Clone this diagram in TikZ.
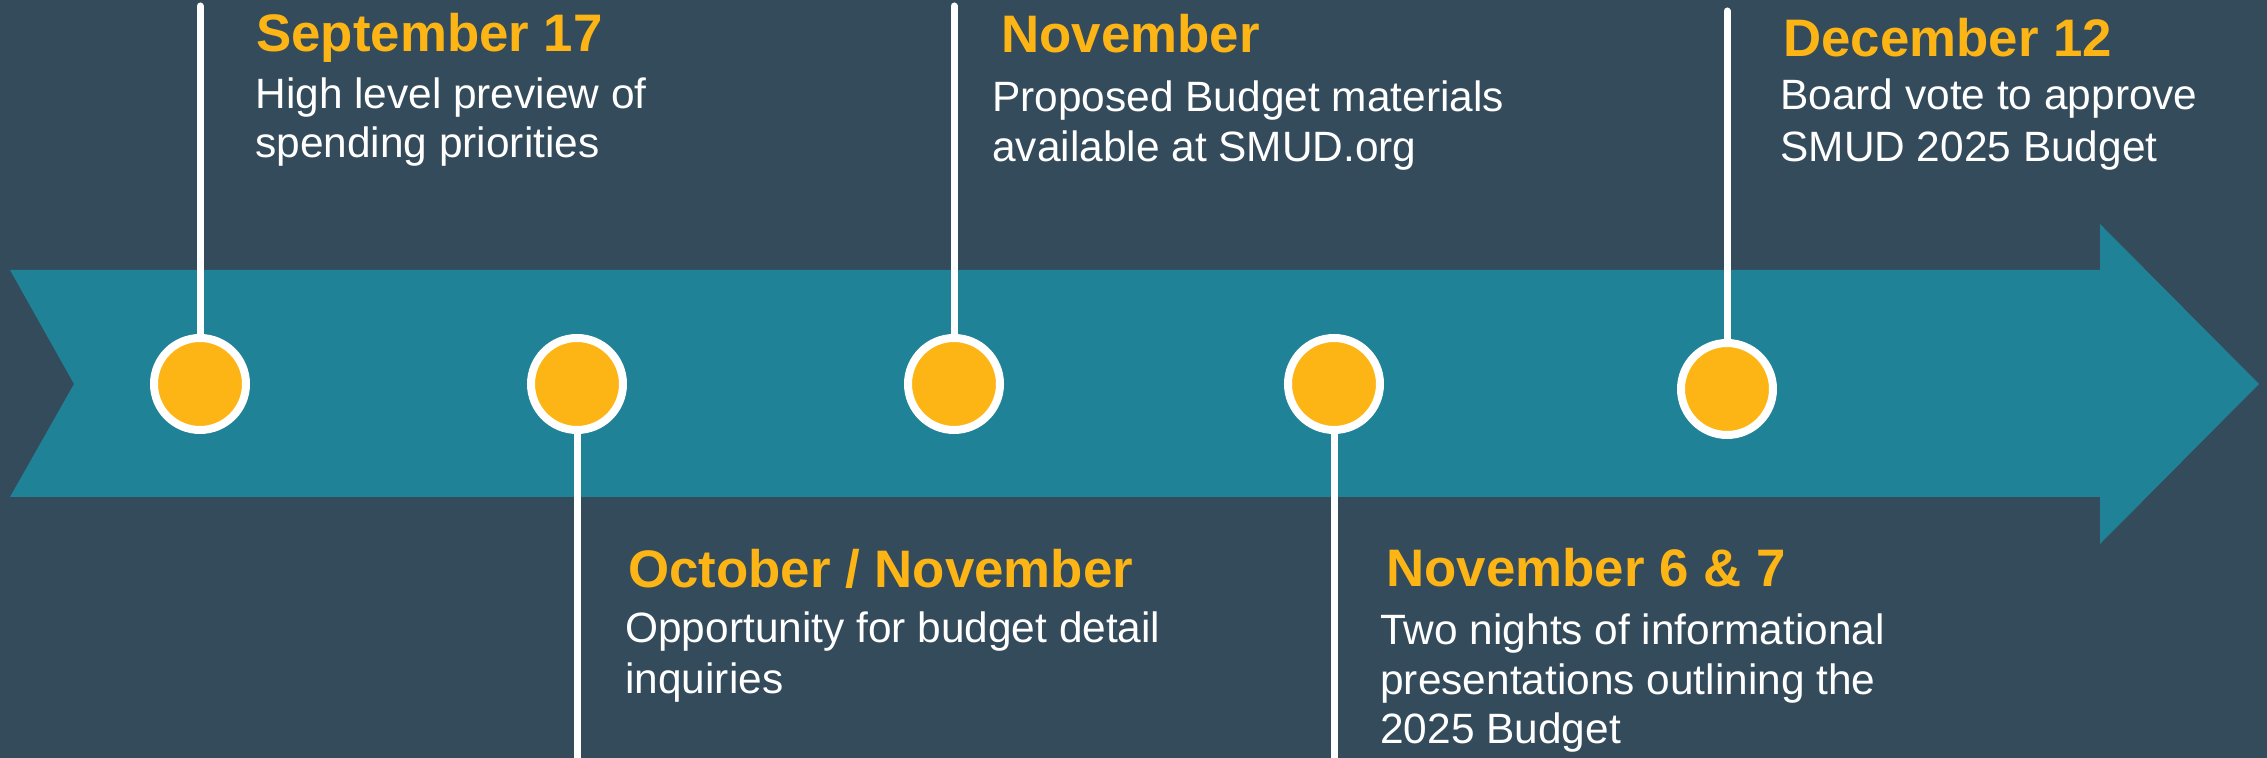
\documentclass[tikz,border=0pt]{standalone}
\usepackage{fontspec}
\setmainfont{Liberation Sans}
\definecolor{bgcol}{HTML}{344B5C}
\definecolor{teal}{HTML}{1F8296}
\definecolor{gold}{HTML}{FDB515}
\begin{document}
\begin{tikzpicture}[x=0.5pt,y=-0.5pt,
  dot/.style={circle,minimum size=46pt,inner sep=0pt,fill=gold,draw=white,line width=4pt},
  stem/.style={draw=white,line width=3.5pt,line cap=round},
  title/.style={anchor=base west,inner sep=0pt,text=gold,font=\fontsize{26.4}{30}\selectfont\bfseries},
  body/.style={anchor=base west,inner sep=0pt,text=white,font=\fontsize{21.2}{25}\selectfont}]
\fill[bgcol] (0,0) rectangle (2267,758);
\useasboundingbox (0,0) rectangle (2267,758);
% arrow band
\fill[teal] (10,270) -- (2100,270) -- (2100,224) -- (2259,384) -- (2100,544) -- (2100,497) -- (10,497) -- (74,384) -- cycle;
% stems
\coordinate (t1) at (200,6);
\coordinate (b2) at (577,770);
\coordinate (t3) at (954,6);
\coordinate (b4) at (1334,770);
\coordinate (t5) at (1727,11);
\coordinate (p1) at (200,384);
\coordinate (p2) at (577,384);
\coordinate (p3) at (954,384);
\coordinate (p4) at (1334,384);
\coordinate (p5) at (1727,389);
\draw[stem] (t1) -- (p1);
\draw[stem] (p2) -- (b2);
\draw[stem] (t3) -- (p3);
\draw[stem] (p4) -- (b4);
\draw[stem] (t5) -- (p5);
% dots
\node[dot] (c1) at (p1) {};
\node[dot] (c2) at (p2) {};
\node[dot] (c3) at (p3) {};
\node[dot] (c4) at (p4) {};
\node[dot] (c5) at (p5) {};
% texts
\node[title] (h1) at (256,52) {September 17};
\node[body] (s1a) at (255,109) {High level preview of};
\node[body] (s1b) at (255,158) {spending priorities};

\node[title] (h2) at (628,588) {October / November};
\node[body] (s2a) at (625,643) {Opportunity for budget detail};
\node[body] (s2b) at (625,694) {inquiries};

\node[title] (h3) at (1001,53) {November};
\node[body] (s3a) at (992,112) {Proposed Budget materials};
\node[body] (s3b) at (992,162) {available at SMUD.org};

\node[title] (h4) at (1386,587) {November 6 \& 7};
\node[body] (s4a) at (1380,645) {Two nights of informational};
\node[body] (s4b) at (1380,695) {presentations outlining the};
\node[body] (s4c) at (1380,744) {2025 Budget};

\node[title] (h5) at (1783,57) {December 12};
\node[body] (s5a) at (1780,110) {Board vote to approve};
\node[body] (s5b) at (1780,162) {SMUD 2025 Budget};
\end{tikzpicture}
\end{document}
